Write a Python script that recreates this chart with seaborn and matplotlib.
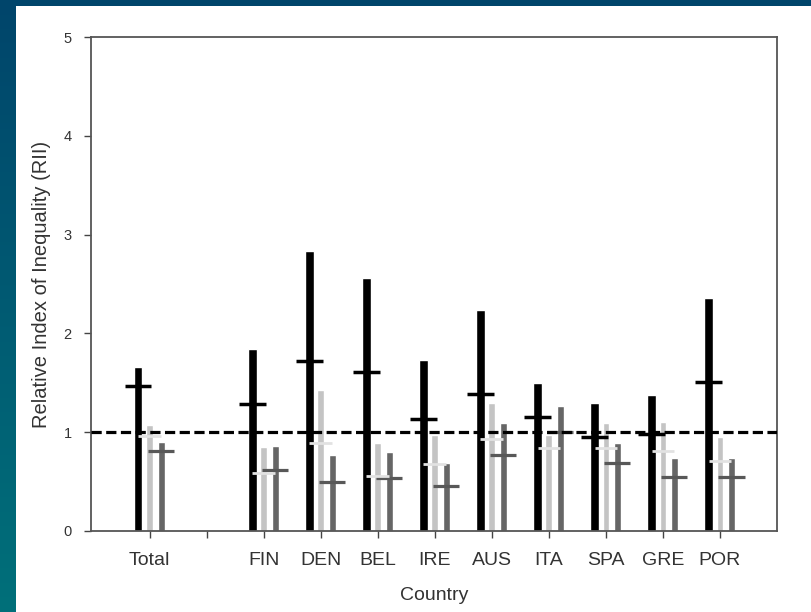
import matplotlib
matplotlib.use("Agg")
import matplotlib.pyplot as plt
import matplotlib.colors as mcolors
import numpy as np
import pandas as pd
import seaborn as sns

# categories (blank slot between Total and the countries)
order = ["Total", "", "FIN", "DEN", "BEL", "IRE", "AUS", "ITA", "SPA", "GRE", "POR"]
countries = ["Total", "FIN", "DEN", "BEL", "IRE", "AUS", "ITA", "SPA", "GRE", "POR"]

# upper confidence limit (bar top) and point estimate (tick) per series
black_upper = [1.66, 1.84, 2.83, 2.56, 1.73, 2.24, 1.50, 1.30, 1.38, 2.36]
black_est = [1.47, 1.29, 1.72, 1.61, 1.13, 1.39, 1.15, 0.95, 0.98, 1.51]
light_upper = [1.07, 0.85, 1.43, 0.89, 0.97, 1.30, 0.97, 1.09, 1.10, 0.95]
light_est = [0.96, 0.59, 0.89, 0.56, 0.68, 0.93, 0.84, 0.84, 0.81, 0.71]
dark_upper = [0.90, 0.86, 0.77, 0.80, 0.69, 1.09, 1.26, 0.89, 0.74, 0.74]
dark_est = [0.81, 0.62, 0.50, 0.54, 0.46, 0.77, 1.00, 0.69, 0.55, 0.55]

series = ["black", "light", "dark"]
palette = {"black": "#000000", "light": "#c4c4c4", "dark": "#666666"}
tick_colors = {"black": "#000000", "light": "#e2e2e2", "dark": "#585858"}

uppers = {"black": black_upper, "light": light_upper, "dark": dark_upper}
ests = {"black": black_est, "light": light_est, "dark": dark_est}

rows = []
for s in series:
    for c, u, e in zip(countries, uppers[s], ests[s]):
        rows.append({"country": c, "series": s, "upper": u, "est": e})
df = pd.DataFrame(rows)

sns.set_style("white")
plt.rcParams["font.family"] = ["Liberation Sans", "DejaVu Sans"]

fig = plt.figure(figsize=(8.12, 6.12), dpi=100, facecolor="white")

# decorative frame: dark band on top, gradient band on the left
bg = fig.add_axes([0, 0, 1, 1], zorder=-5)
bg.set_xlim(0, 812)
bg.set_ylim(0, 612)
bg.axis("off")
c_top = np.array(mcolors.to_rgb("#00456b"))
c_bot = np.array(mcolors.to_rgb("#00707a"))
t = np.linspace(0, 1, 256)[:, None]
grad = (c_top[None, :] * (1 - t) + c_bot[None, :] * t)[:, None, :]
bg.imshow(grad, extent=[0, 16, 0, 612], aspect="auto", origin="upper")
bg.add_patch(plt.Rectangle((0, 606), 812, 6, color="#00456b", lw=0))

ax = fig.add_axes([0.1121, 0.1324, 0.8448, 0.8071])
sns.barplot(data=df, x="country", y="upper", hue="series", order=order,
            hue_order=series, palette=palette, width=0.6, gap=0.28,
            saturation=1, legend=False, ax=ax, zorder=2)

# grey bars are a bit narrower than the black ones
for p in ax.patches:
    if mcolors.to_hex(p.get_facecolor()) != "#000000":
        cx = p.get_x() + p.get_width() / 2
        p.set_width(0.12)
        p.set_x(cx - 0.06)

# point-estimate ticks
offsets = {"black": -0.2, "light": 0.0, "dark": 0.2}
half = {"black": 0.23, "light": 0.2, "dark": 0.23}
lws = {"black": 2.5, "light": 2.0, "dark": 2.3}
for s in ["black", "dark", "light"]:
    sub = df[df["series"] == s]
    xs = np.array([order.index(c) for c in sub["country"]]) + offsets[s]
    ax.hlines(sub["est"], xs - half[s], xs + half[s], colors=tick_colors[s],
              lw=lws[s], zorder=4)

ax.axhline(1, color="black", lw=2.3, ls=(0, (3.2, 1.4)), zorder=5)

ax.set_xlim(-1.03, 11.0)
ax.set_ylim(0, 5)
ax.set_yticks([0, 1, 2, 3, 4, 5])
ax.set_xlabel("Country", fontsize=14, color="#333333", labelpad=13)
ax.set_ylabel("Relative Index of Inequality (RII)", fontsize=14.5, color="#333333", labelpad=9)
ax.tick_params(axis="both", direction="out", length=5, width=1, color="#444444",
               labelcolor="#333333", bottom=True, left=True)
ax.tick_params(axis="x", labelsize=14, pad=10)
ax.tick_params(axis="y", labelsize=10.5, pad=9)
for sp in ax.spines.values():
    sp.set_color("#555555")
    sp.set_linewidth(1.3)

fig.savefig("out.png", dpi=100, facecolor="white")
